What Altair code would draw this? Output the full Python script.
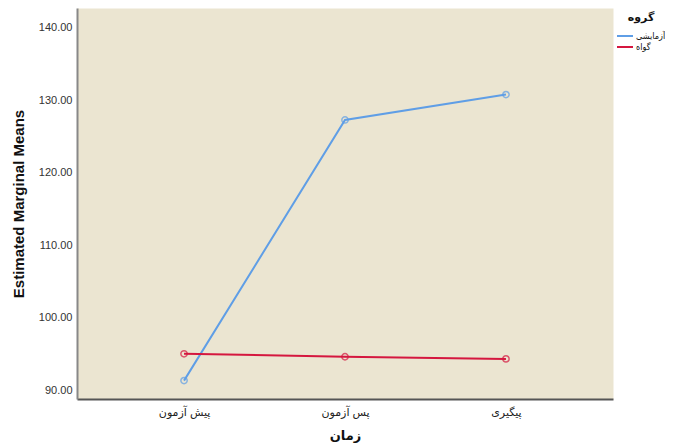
import altair as alt
import pandas as pd

times = ["پیش آزمون", "پس آزمون", "پیگیری"]
groups = ["آزمایشی", "گواه"]
experimental = [91.3, 127.3, 130.8]
control = [95.0, 94.6, 94.3]

rows = []
for t, v in zip(times, experimental):
    rows.append({"time": t, "group": groups[0], "mean": v})
for t, v in zip(times, control):
    rows.append({"time": t, "group": groups[1], "mean": v})
df = pd.DataFrame(rows)

FONT = "Liberation Sans, DejaVu Sans"
colors = ["#5f9ee6", "#d5173f"]

x = alt.X("time:N", sort=times,
          scale=alt.Scale(type="point", padding=0.665),
          axis=alt.Axis(title="زمان", labelAngle=0, ticks=False,
                        labelPadding=7, titlePadding=12,
                        labelFontSize=11, titleFontSize=13, titleFontWeight="bold",
                        labelColor="#222", titleColor="#111",
                        domainColor="#555", domainWidth=2, grid=False))
y = alt.Y("mean:Q",
          scale=alt.Scale(domain=[88.76, 142.76], zero=False, nice=False),
          axis=alt.Axis(title="Estimated Marginal Means", values=[90, 100, 110, 120, 130, 140],
                        format=".2f", ticks=False, grid=False, labelPadding=5,
                        titlePadding=12, labelFontSize=11, titleFontSize=15,
                        titleFontWeight="bold", labelColor="#333", titleColor="#111",
                        domainColor="#888", domainWidth=2))
color = alt.Color("group:N", sort=groups,
                  scale=alt.Scale(domain=groups, range=colors),
                  legend=alt.Legend(title="گروه", orient="none", legendX=539, legendY=4,
                                    symbolType="stroke", symbolSize=256, symbolStrokeWidth=2,
                                    clipHeight=10, rowPadding=1, padding=0,
                                    labelFont="DejaVu Sans Condensed",
                                    labelFontSize=9, titleFontSize=11, titleFontWeight="bold",
                                    titleAnchor="middle", titlePadding=8, labelOffset=2,
                                    labelColor="#111", titleColor="#111"))

base = alt.Chart(df)
lines = base.mark_line(strokeWidth=2).encode(x=x, y=y, color=color)
points = base.mark_point(shape="circle", filled=False, size=40, strokeWidth=1.5).encode(
    x=x, y=y, color=alt.Color("group:N", sort=groups,
                              scale=alt.Scale(domain=groups, range=colors), legend=None))

chart = alt.layer(lines, points).properties(
    width=536, height=391,
    autosize=alt.AutoSizeParams(type="none"),
    padding={"left": 69, "top": 0, "right": 52, "bottom": 48},
    background="white",
).configure(font=FONT).configure_view(fill="#ebe5d1", stroke="transparent")

chart.save("out.html", embed_options={"renderer": "svg", "actions": False})
